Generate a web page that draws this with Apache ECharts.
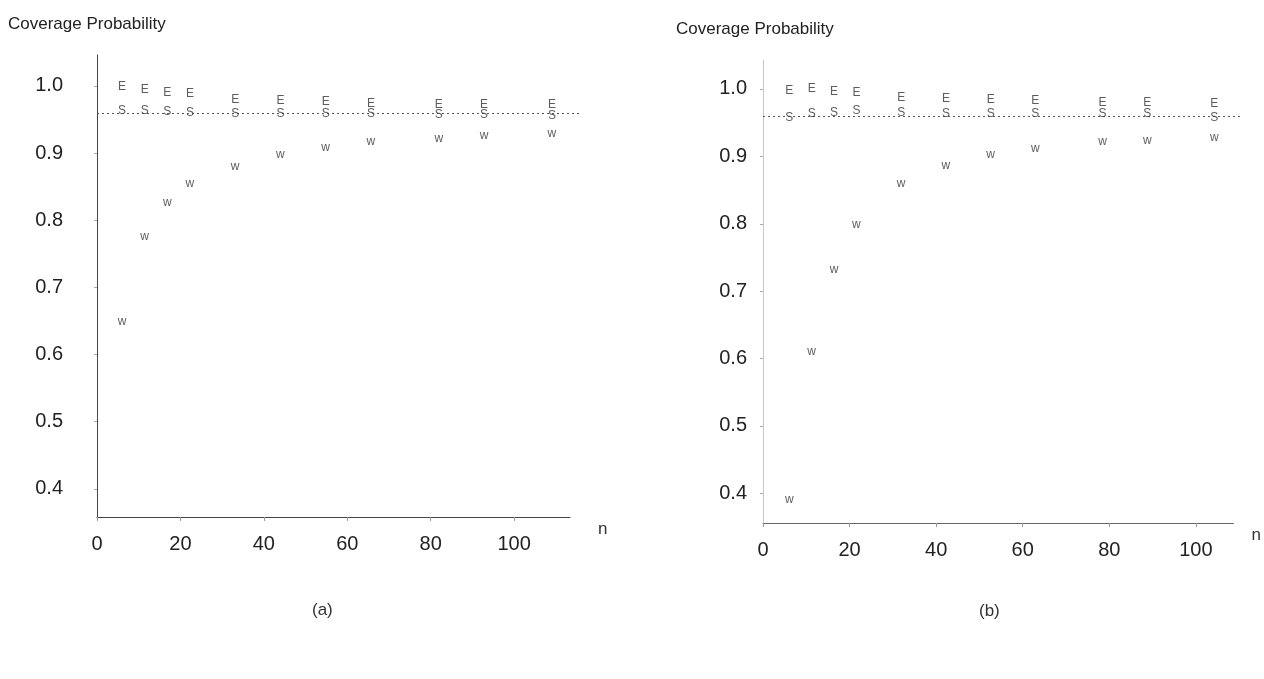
<!DOCTYPE html>
<html>
<head>
<meta charset="utf-8">
<script src="https://cdn.jsdelivr.net/npm/echarts@6/dist/echarts.min.js"></script>
<style>
html,body{margin:0;padding:0;background:#fff;}
#chart{width:1264px;height:679px;}
</style>
</head>
<body>
<div id="chart"></div>
<script>
// ---- data ----
var nValues = [5, 10, 15, 20, 30, 40, 50, 60, 75, 85, 100];
// panel (a)
var eA = [0.990, 0.985, 0.981, 0.979, 0.971, 0.969, 0.968, 0.965, 0.963, 0.963, 0.963];
var sA = [0.954, 0.954, 0.953, 0.951, 0.950, 0.949, 0.950, 0.950, 0.948, 0.948, 0.946];
var wA = [0.640, 0.767, 0.817, 0.845, 0.871, 0.888, 0.899, 0.908, 0.912, 0.917, 0.920];
// panel (b)
var eB = [0.988, 0.991, 0.987, 0.986, 0.978, 0.976, 0.975, 0.974, 0.971, 0.970, 0.969];
var sB = [0.948, 0.955, 0.956, 0.959, 0.956, 0.955, 0.954, 0.954, 0.954, 0.954, 0.949];
var wB = [0.381, 0.601, 0.723, 0.789, 0.851, 0.877, 0.893, 0.903, 0.913, 0.915, 0.919];
var nominal = 0.95;
var yTicks = [0.4, 0.5, 0.6, 0.7, 0.8, 0.9, 1.0];
var xTicks = [0, 20, 40, 60, 80, 100];
var yTitle = 'Coverage Probability';
var xName = 'n';
var captions = ['(a)', '(b)'];

function pairs(xs, ys) { return xs.map(function (x, i) { return [x, ys[i]]; }); }

var FONT = 'Liberation Sans, Arial, Helvetica, sans-serif';

function visX(grid, max, lineColor, nameGap) {
  return {
    type: 'value', gridIndex: grid, min: 0, max: max,
    name: xName, nameLocation: 'end', nameGap: nameGap,
    nameTextStyle: { fontSize: 17, color: '#333', fontFamily: FONT, verticalAlign: 'top', padding: [4, 0, 0, 0] },
    axisLine: { show: true, lineStyle: { color: lineColor, width: 1 } },
    axisTick: { show: true, length: 4, inside: false, customValues: xTicks, lineStyle: { color: '#999' } },
    axisLabel: { customValues: xTicks, margin: 17, fontSize: 20, color: '#222', fontFamily: FONT },
    splitLine: { show: false }
  };
}
function visY(grid, min, max, lineColor, margin) {
  return {
    type: 'value', gridIndex: grid, min: min, max: max,
    axisLine: { show: true, lineStyle: { color: lineColor, width: 1 } },
    axisTick: { show: true, length: 3, customValues: yTicks, lineStyle: { color: '#aaa' } },
    axisLabel: { customValues: yTicks, margin: margin, fontSize: 20, color: '#222', fontFamily: FONT,
      formatter: function (v) { return v.toFixed(1); } },
    splitLine: { show: false }
  };
}
function hidX(grid, min, max) {
  return { type: 'value', gridIndex: grid, min: min, max: max, show: false, splitLine: { show: false } };
}
function hidY(grid, min, max) {
  return { type: 'value', gridIndex: grid, min: min, max: max, show: false, splitLine: { show: false } };
}
function letters(name, xIdx, yIdx, data, letter, extra) {
  var s = {
    name: name, type: 'scatter', xAxisIndex: xIdx, yAxisIndex: yIdx,
    data: data, symbol: 'circle', symbolSize: 2, clip: false,
    itemStyle: { color: 'rgba(0,0,0,0)' },
    label: { show: true, position: 'inside', formatter: letter, fontSize: 12, color: '#333', fontFamily: FONT },
    emphasis: { disabled: true }, z: 5
  };
  if (extra) { for (var k in extra) s[k] = extra[k]; }
  return s;
}
function refLine() {
  return { markLine: { silent: true, symbol: 'none', label: { show: false },
    lineStyle: { type: [2, 3], color: '#555', width: 1 }, data: [{ yAxis: nominal }] } };
}

// data scales
var yMinA = 0.349, yMaxA = 1.037;
var yMinB = 0.347, yMaxB = 1.034;
// tick-label scales (the printed labels sit a few pixels below the data scale)
var labShift = 0.009;

var option = {
  animation: false,
  backgroundColor: '#fff',
  title: [
    { text: yTitle, left: 3, top: 11, textStyle: { fontSize: 17, fontWeight: 'normal', color: '#222', fontFamily: FONT } },
    { text: yTitle, left: 671, top: 16, textStyle: { fontSize: 17, fontWeight: 'normal', color: '#222', fontFamily: FONT } },
    { text: captions[0], left: 307, top: 597, textStyle: { fontSize: 17, fontWeight: 'normal', color: '#333', fontFamily: FONT } },
    { text: captions[1], left: 974, top: 598, textStyle: { fontSize: 17, fontWeight: 'normal', color: '#333', fontFamily: FONT } }
  ],
  grid: [
    { left: 97, top: 55, width: 473, height: 462 },   // (a) visible axes
    { left: 97, top: 55, width: 483, height: 462 },   // (a) data
    { left: 763, top: 60, width: 477, height: 463 },  // (b) visible axes
    { left: 763, top: 60, width: 480, height: 463 }   // (b) data
  ],
  xAxis: [
    visX(0, 113.4, '#444', 28),
    hidX(1, -0.53, 106.2),
    visX(2, 108.7, '#666', 18),
    hidX(3, -0.87, 106.4)
  ],
  yAxis: [
    visY(0, yMinA + labShift, yMaxA + labShift, '#444', 34),
    hidY(1, yMinA, yMaxA),
    visY(2, yMinB + labShift, yMaxB + labShift, '#c8c8c8', 16),
    hidY(3, yMinB, yMaxB)
  ],
  series: [
    letters('E (a)', 1, 1, pairs(nValues, eA), 'E'),
    letters('S (a)', 1, 1, pairs(nValues, sA), 'S', refLine()),
    letters('W (a)', 1, 1, pairs(nValues, wA), 'w'),
    letters('E (b)', 3, 3, pairs(nValues, eB), 'E'),
    letters('S (b)', 3, 3, pairs(nValues, sB), 'S', refLine()),
    letters('W (b)', 3, 3, pairs(nValues, wB), 'w')
  ]
};

var chart = echarts.init(document.getElementById('chart'), null, { renderer: 'canvas' });
chart.setOption(option);
</script>
</body>
</html>
